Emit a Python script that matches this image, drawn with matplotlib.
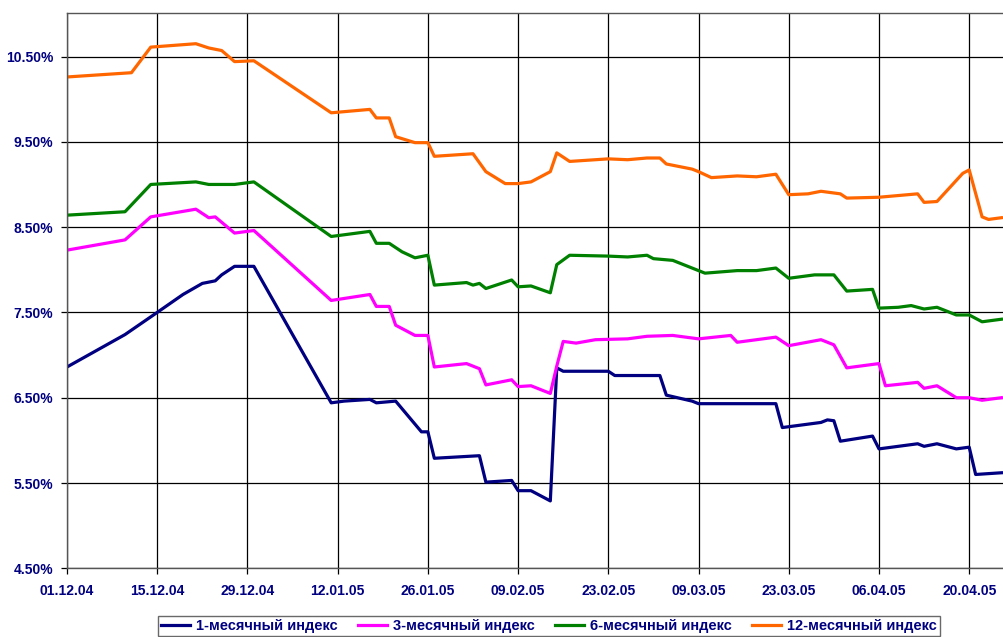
"""Russian money-market indices (1-, 3-, 6-, 12-month), Dec 2004 - Apr 2005."""
import matplotlib
matplotlib.use("Agg")
import matplotlib.pyplot as plt
import matplotlib.dates as mdates
import pandas as pd
from matplotlib.ticker import FixedLocator, FuncFormatter

NAVY = "#000080"

# 1-month index
d1 = ["01.12.04", "10.12.04", "15.12.04", "19.12.04", "22.12.04", "24.12.04", "25.12.04",
      "27.12.04", "30.12.04", "11.01.05", "13.01.05", "17.01.05", "18.01.05", "21.01.05",
      "25.01.05", "26.01.05", "27.01.05", "03.02.05", "04.02.05", "08.02.05", "09.02.05",
      "11.02.05", "14.02.05", "15.02.05", "16.02.05", "23.02.05", "24.02.05", "03.03.05",
      "04.03.05", "08.03.05", "09.03.05", "21.03.05", "22.03.05", "27.03.05", "28.03.05",
      "29.03.05", "30.03.05", "31.03.05", "05.04.05", "06.04.05", "12.04.05", "13.04.05",
      "15.04.05", "18.04.05", "20.04.05", "21.04.05", "25.04.05"]
v1 = [6.86, 7.24, 7.50, 7.71, 7.84, 7.87, 7.94,
      8.04, 8.04, 6.44, 6.46, 6.48, 6.44, 6.46,
      6.10, 6.10, 5.79, 5.82, 5.51, 5.53, 5.41,
      5.41, 5.29, 6.85, 6.81, 6.81, 6.76, 6.76,
      6.53, 6.46, 6.43, 6.43, 6.15, 6.20, 6.21,
      6.24, 6.23, 5.99, 6.05, 5.90, 5.96, 5.93,
      5.96, 5.90, 5.92, 5.60, 5.62]

# 3-month index
d3 = ["01.12.04", "10.12.04", "14.12.04", "21.12.04", "23.12.04", "24.12.04", "27.12.04",
      "30.12.04", "11.01.05", "17.01.05", "18.01.05", "20.01.05", "21.01.05", "24.01.05",
      "26.01.05", "27.01.05", "01.02.05", "03.02.05", "04.02.05", "08.02.05", "09.02.05",
      "11.02.05", "14.02.05", "15.02.05", "16.02.05", "18.02.05", "21.02.05", "26.02.05",
      "01.03.05", "05.03.05", "08.03.05", "09.03.05", "14.03.05", "15.03.05", "21.03.05",
      "23.03.05", "28.03.05", "30.03.05", "01.04.05", "06.04.05", "07.04.05", "12.04.05",
      "13.04.05", "15.04.05", "18.04.05", "20.04.05", "22.04.05", "25.04.05"]
v3 = [8.23, 8.35, 8.62, 8.71, 8.61, 8.62, 8.43,
      8.46, 7.64, 7.71, 7.57, 7.57, 7.35, 7.23,
      7.23, 6.86, 6.90, 6.84, 6.65, 6.71, 6.63,
      6.64, 6.55, 6.87, 7.16, 7.14, 7.18, 7.19,
      7.22, 7.23, 7.20, 7.19, 7.23, 7.15, 7.21,
      7.11, 7.18, 7.12, 6.85, 6.90, 6.64, 6.68,
      6.61, 6.64, 6.50, 6.50, 6.47, 6.50]

# 6-month index
d6 = ["01.12.04", "10.12.04", "14.12.04", "21.12.04", "23.12.04", "27.12.04", "30.12.04",
      "11.01.05", "17.01.05", "18.01.05", "20.01.05", "22.01.05", "24.01.05", "26.01.05",
      "27.01.05", "01.02.05", "02.02.05", "03.02.05", "04.02.05", "08.02.05", "09.02.05",
      "11.02.05", "14.02.05", "15.02.05", "17.02.05", "23.02.05", "26.02.05", "01.03.05",
      "02.03.05", "05.03.05", "08.03.05", "10.03.05", "15.03.05", "18.03.05", "21.03.05",
      "23.03.05", "27.03.05", "30.03.05", "01.04.05", "05.04.05", "06.04.05", "09.04.05",
      "11.04.05", "13.04.05", "15.04.05", "18.04.05", "20.04.05", "22.04.05", "25.04.05"]
v6 = [8.64, 8.68, 9.00, 9.03, 9.00, 9.00, 9.03,
      8.39, 8.45, 8.31, 8.31, 8.21, 8.14, 8.17,
      7.82, 7.85, 7.82, 7.84, 7.78, 7.88, 7.80,
      7.81, 7.73, 8.06, 8.17, 8.16, 8.15, 8.17,
      8.13, 8.11, 8.02, 7.96, 7.99, 7.99, 8.02,
      7.90, 7.94, 7.94, 7.75, 7.77, 7.55, 7.56,
      7.58, 7.54, 7.56, 7.47, 7.47, 7.39, 7.42]

# 12-month index
d12 = ["01.12.04", "11.12.04", "14.12.04", "21.12.04", "23.12.04", "25.12.04", "27.12.04",
       "30.12.04", "11.01.05", "17.01.05", "18.01.05", "20.01.05", "21.01.05", "24.01.05",
       "26.01.05", "27.01.05", "02.02.05", "04.02.05", "07.02.05", "09.02.05", "11.02.05",
       "14.02.05", "15.02.05", "17.02.05", "23.02.05", "26.02.05", "01.03.05", "03.03.05",
       "04.03.05", "08.03.05", "09.03.05", "11.03.05", "15.03.05", "18.03.05", "21.03.05",
       "23.03.05", "26.03.05", "28.03.05", "31.03.05", "01.04.05", "06.04.05", "12.04.05",
       "13.04.05", "15.04.05", "19.04.05", "20.04.05", "22.04.05", "23.04.05", "25.04.05"]
v12 = [10.26, 10.31, 10.61, 10.65, 10.60, 10.57, 10.44,
       10.45, 9.84, 9.88, 9.78, 9.78, 9.56, 9.49,
       9.49, 9.33, 9.36, 9.15, 9.01, 9.01, 9.03,
       9.15, 9.37, 9.27, 9.30, 9.29, 9.31, 9.31,
       9.24, 9.18, 9.15, 9.08, 9.10, 9.09, 9.12,
       8.88, 8.89, 8.92, 8.89, 8.84, 8.85, 8.89,
       8.79, 8.80, 9.13, 9.17, 8.62, 8.59, 8.61]

series = [
    ("1-месячный индекс", d1, v1, NAVY),
    ("3-месячный индекс", d3, v3, "#FF00FF"),
    ("6-месячный индекс", d6, v6, "#008000"),
    ("12-месячный индекс", d12, v12, "#FF6600"),
]

y_ticks = [4.5, 5.5, 6.5, 7.5, 8.5, 9.5, 10.5]

plt.rcParams["font.family"] = ["Liberation Sans", "DejaVu Sans"]

fig = plt.figure(figsize=(10.04, 6.37), dpi=100)
ax = fig.add_axes([67 / 1004, 1 - 568.3 / 637, 1 - 67 / 1004, (568.3 - 13) / 637])

for label, dates, vals, color in series:
    x = pd.to_datetime(dates, format="%d.%m.%y")
    ax.plot(x, vals, color=color, lw=2.3, label=label)

start = pd.Timestamp("2004-12-01")
ax.set_xlim(start, start + pd.Timedelta(days=145.4))
ax.set_ylim(4.5, 11.01)

x_ticks = pd.date_range(start, periods=11, freq="14D")
ax.xaxis.set_major_locator(FixedLocator(mdates.date2num(x_ticks)))
ax.xaxis.set_major_formatter(mdates.DateFormatter("%d.%m.%y"))
ax.yaxis.set_major_locator(FixedLocator(y_ticks))
ax.yaxis.set_major_formatter(FuncFormatter(lambda v, _: f"{v:.2f}%"))

ax.grid(True, color="black", lw=0.9)
ax.set_axisbelow(True)
for side in ("left", "bottom", "top"):
    ax.spines[side].set_color("#555555")
    ax.spines[side].set_linewidth(1.0)
ax.spines["right"].set_visible(False)

ax.tick_params(axis="both", length=4, width=0.9, color="black",
               labelcolor=NAVY, labelsize=10)
ax.tick_params(axis="y", pad=6)
ax.tick_params(axis="x", pad=7)
for t in ax.get_xticklabels() + ax.get_yticklabels():
    t.set_fontweight("bold")

leg = fig.legend(loc="upper center", bbox_to_anchor=(549 / 1004, 1 - 616 / 637),
                 ncol=4, frameon=True, fancybox=False, edgecolor="#444444",
                 prop={"weight": "bold", "size": 10.5}, handlelength=2.0,
                 handletextpad=0.4, columnspacing=1.4, borderpad=0.2,
                 borderaxespad=0)
leg.get_frame().set_linewidth(1.0)
for t in leg.get_texts():
    t.set_color(NAVY)

fig.savefig("out.png", dpi=100)
